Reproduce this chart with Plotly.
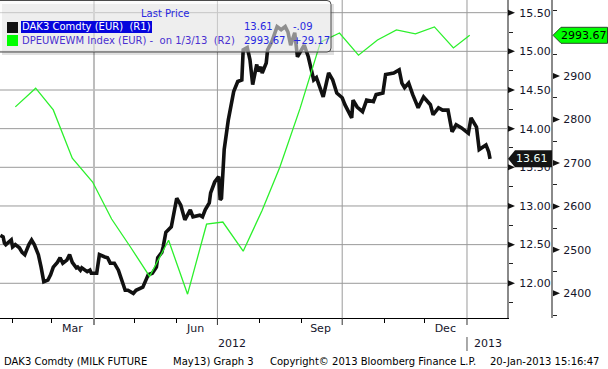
import plotly.graph_objects as go

W, H = 608, 369
FONT = "DejaVu Sans"

# ---------------- data ----------------
milk_dates = [
    "2012-01-23", "2012-01-25", "2012-01-26", "2012-01-27", "2012-01-31", "2012-02-01", "2012-02-03",
    "2012-02-06", "2012-02-08", "2012-02-10", "2012-02-13", "2012-02-15", "2012-02-17", "2012-02-20",
    "2012-02-22", "2012-02-24", "2012-02-27", "2012-02-29", "2012-03-02", "2012-03-05", "2012-03-07",
    "2012-03-09", "2012-03-12", "2012-03-14", "2012-03-16", "2012-03-19", "2012-03-20", "2012-03-22",
    "2012-03-23", "2012-03-27", "2012-03-29", "2012-03-30", "2012-04-03", "2012-04-05", "2012-04-09",
    "2012-04-11", "2012-04-13", "2012-04-16", "2012-04-19", "2012-04-23", "2012-04-24", "2012-04-26",
    "2012-04-30", "2012-05-02", "2012-05-07", "2012-05-10", "2012-05-11", "2012-05-14", "2012-05-17",
    "2012-05-18", "2012-05-21", "2012-05-22", "2012-05-24", "2012-05-28", "2012-06-01", "2012-06-04",
    "2012-06-07", "2012-06-11", "2012-06-13", "2012-06-18", "2012-06-20", "2012-06-22", "2012-06-25",
    "2012-06-26", "2012-06-29", "2012-07-02", "2012-07-03", "2012-07-04", "2012-07-05", "2012-07-06",
    "2012-07-09", "2012-07-12", "2012-07-13", "2012-07-16", "2012-07-19", "2012-07-20", "2012-07-23",
    "2012-07-25", "2012-07-27", "2012-07-30", "2012-07-31", "2012-08-02", "2012-08-03", "2012-08-06",
    "2012-08-07", "2012-08-10", "2012-08-14", "2012-08-17", "2012-08-20", "2012-08-22", "2012-08-24",
    "2012-08-27", "2012-08-29", "2012-09-03", "2012-09-04", "2012-09-06", "2012-09-10", "2012-09-12",
    "2012-09-17", "2012-09-20", "2012-09-21", "2012-09-24", "2012-09-27", "2012-10-01", "2012-10-03",
    "2012-10-08", "2012-10-09", "2012-10-12", "2012-10-16", "2012-10-19", "2012-10-24", "2012-10-26",
    "2012-10-31", "2012-11-02", "2012-11-08", "2012-11-12", "2012-11-14", "2012-11-16", "2012-11-19",
    "2012-11-22", "2012-11-26", "2012-11-30", "2012-12-05", "2012-12-07", "2012-12-11", "2012-12-14",
    "2012-12-18", "2012-12-21", "2012-12-24", "2012-12-28", "2013-01-02", "2013-01-04", "2013-01-08",
    "2013-01-10", "2013-01-15", "2013-01-17", "2013-01-18",
]
milk_vals = [
    12.62, 12.60, 12.52, 12.50, 12.56, 12.47, 12.50,
    12.46, 12.40, 12.37, 12.50, 12.56, 12.50, 12.37,
    12.21, 12.02, 12.04, 12.11, 12.21, 12.27, 12.33,
    12.26, 12.30, 12.37, 12.27, 12.20, 12.21, 12.17,
    12.20, 12.15, 12.17, 12.13, 12.13, 12.37, 12.34,
    12.33, 12.26, 12.26, 12.17, 11.95, 11.91, 11.91,
    11.87, 11.91, 11.95, 12.07, 12.11, 12.13, 12.21,
    12.33, 12.40, 12.47, 12.66, 12.73, 13.10, 13.01,
    12.82, 12.95, 12.86, 12.88, 12.86, 12.95, 13.04,
    13.17, 13.31, 13.38, 13.08, 13.10, 13.47, 13.73,
    14.11, 14.44, 14.48, 14.61, 14.63, 15.02, 15.05,
    14.89, 14.57, 14.83, 14.74, 14.80, 14.72, 14.85,
    15.02, 15.12, 15.32, 15.28, 15.32, 15.25, 15.08,
    15.24, 14.93, 15.08, 15.02, 14.93, 14.63, 14.66,
    14.41, 14.67, 14.72, 14.63, 14.46, 14.40, 14.31,
    14.14, 14.37, 14.28, 14.22, 14.37, 14.35, 14.44,
    14.46, 14.70, 14.72, 14.76, 14.59, 14.53, 14.59,
    14.44, 14.27, 14.41, 14.31, 14.18, 14.27, 14.24,
    14.24, 13.96, 14.05, 14.01, 13.94, 14.14, 14.02,
    13.73, 13.79, 13.70, 13.61,
]

idx_dates = [
    "2012-02-03", "2012-02-18", "2012-03-02", "2012-03-16", "2012-03-31", "2012-04-14", "2012-04-28",
    "2012-05-12", "2012-05-26", "2012-06-09", "2012-06-23", "2012-07-05", "2012-07-20", "2012-08-03",
    "2012-08-16", "2012-08-31", "2012-09-15", "2012-09-29", "2012-10-13", "2012-10-27", "2012-11-10",
    "2012-11-24", "2012-12-08", "2012-12-22", "2013-01-03",
]
idx_vals = [
    2829, 2872, 2822, 2711, 2656, 2571, 2506,
    2439, 2522, 2398, 2559, 2564, 2497, 2591,
    2690, 2826, 2978, 2999, 2948, 2983, 3006,
    2997, 3013, 2964.50, 2993.67,
]

month_labels = ["Mar", "Jun", "Sep", "Dec"]
month_label_dates = ["2012-03-16", "2012-06-15", "2012-09-15", "2012-12-16"]
month_starts = ["2012-02-01", "2012-03-01", "2012-05-01", "2012-06-01",
                "2012-08-01", "2012-09-01", "2012-11-01", "2012-12-01"]
quarter_starts = ["2012-04-01", "2012-07-01", "2012-10-01", "2013-01-01"]
r1_ticks = [12.0, 12.5, 13.0, 13.5, 14.0, 14.5, 15.0, 15.5]
r1_minor = [11.75, 12.25, 12.75, 13.25, 13.75, 14.25, 14.75, 15.25]
r2_ticks = [2400, 2500, 2600, 2700, 2800, 2900]
r2_minor = [2350, 2450, 2550, 2650, 2750, 2850, 2950, 3050]

X_RANGE = ["2012-01-22 17:00", "2013-01-30 12:00"]
R1_RANGE = [11.551, 15.664]
R2_RANGE = [2343.2, 3074.9]

PLOT_BOTTOM = 318
PLOT_RIGHT = 507
AX2_X = 552


def px(x):
    return x / W


def py(y):
    return 1 - y / H


U1 = (R1_RANGE[1] - R1_RANGE[0]) / PLOT_BOTTOM   # R1 units per pixel
U2 = (R2_RANGE[1] - R2_RANGE[0]) / PLOT_BOTTOM   # R2 units per pixel

BLACK_C = "#111111"
GREEN_C = "#2cf02c"
TXT = "#15152a"

fig = go.Figure()

# gridlines drawn as plain line traces underneath the data
gx, gy = [], []
for v in r1_ticks:
    gx += [X_RANGE[0], X_RANGE[1], None]
    gy += [v, v, None]
for q in quarter_starts[1:]:
    gx += [q, q, None]
    gy += [R1_RANGE[0], R1_RANGE[1], None]
fig.add_trace(go.Scatter(x=gx, y=gy, mode="lines", yaxis="y",
                         line=dict(color="#9a9a9a", width=1),
                         hoverinfo="skip", showlegend=False))
fig.add_trace(go.Scatter(x=[quarter_starts[0], quarter_starts[0]], y=list(R1_RANGE),
                         mode="lines", yaxis="y",
                         line=dict(color="#bdbdbd", width=2),
                         hoverinfo="skip", showlegend=False))

fig.add_trace(go.Scatter(x=milk_dates, y=milk_vals, mode="lines",
                         line=dict(color=BLACK_C, width=3.6), yaxis="y",
                         hoverinfo="skip", showlegend=False))
fig.add_trace(go.Scatter(x=idx_dates, y=idx_vals, mode="lines",
                         line=dict(color=GREEN_C, width=1.3), yaxis="y2",
                         hoverinfo="skip", showlegend=False))

shapes = []
# short extensions of the quarter lines below the axis
for i, q in enumerate(quarter_starts):
    shapes.append(dict(type="line", xref="x", yref="paper", x0=q, x1=q,
                       y0=py(PLOT_BOTTOM + 7), y1=py(PLOT_BOTTOM),
                       line=dict(color="#888" if i == 0 else "#333",
                                 width=2 if i == 0 else 1)))

# tick triangles on the value axes
for v in r1_ticks:
    a, b = px(PLOT_RIGHT + 1), px(PLOT_RIGHT + 8)
    h = 3 * U1
    shapes.append(dict(type="path", xref="paper", yref="y",
                       path=f"M {a},{v - h} L {b},{v} L {a},{v + h} Z",
                       fillcolor="#111", line=dict(width=0)))
for v in r2_ticks:
    a, b = px(AX2_X + 1), px(AX2_X + 8)
    h = 3 * U2
    shapes.append(dict(type="path", xref="paper", yref="y2",
                       path=f"M {a},{v - h} L {b},{v} L {a},{v + h} Z",
                       fillcolor="#111", line=dict(width=0)))

# last value tags
lv1 = milk_vals[-1]
h1 = 8.5 * U1
x0, x1, x2 = px(PLOT_RIGHT + 1), px(PLOT_RIGHT + 8), px(AX2_X)
shapes.append(dict(type="path", xref="paper", yref="y",
                   path=(f"M {x0},{lv1} L {x1},{lv1 + h1} L {x2},{lv1 + h1} "
                         f"L {x2},{lv1 - h1} L {x1},{lv1 - h1} Z"),
                   fillcolor="#141414", line=dict(width=0)))
lv2 = idx_vals[-1]
h2 = 8 * U2
x0, x1, x2 = px(AX2_X + 1), px(AX2_X + 9), px(W - 0.5)
shapes.append(dict(type="path", xref="paper", yref="y2",
                   path=(f"M {x0},{lv2} L {x1},{lv2 + h2} L {x2},{lv2 + h2} "
                         f"L {x2},{lv2 - h2} L {x1},{lv2 - h2} Z"),
                   fillcolor="#00ff00", line=dict(width=1, color="#2a4a2a")))


# legend box
def ppath(pts):
    return "M " + " L ".join(f"{px(x)},{py(y)}" for x, y in pts) + " Z"


shapes.append(dict(type="path", xref="paper", yref="paper",
                   path=ppath([(2, 4), (334, 4), (334, 55), (2, 55)]),
                   fillcolor="rgba(0,0,0,0.12)", line=dict(width=0)))
shapes.append(dict(type="path", xref="paper", yref="paper",
                   path=(f"M {px(-2)},{py(0.5)} L {px(327)},{py(0.5)} "
                         f"Q {px(331)},{py(0.5)} {px(331)},{py(4.5)} "
                         f"L {px(331)},{py(48)} Q {px(331)},{py(52)} {px(327)},{py(52)} "
                         f"L {px(-2)},{py(52)} Z"),
                   fillcolor="rgba(250,250,250,0.55)", line=dict(width=1, color="#4a4a4a")))
shapes.append(dict(type="rect", xref="paper", yref="paper",
                   x0=px(21), x1=px(152), y0=py(33), y1=py(21),
                   fillcolor="#0505dc", line=dict(width=0)))
shapes.append(dict(type="rect", xref="paper", yref="paper",
                   x0=px(7), x1=px(18), y0=py(33), y1=py(22),
                   fillcolor="#111", line=dict(width=0)))
shapes.append(dict(type="rect", xref="paper", yref="paper",
                   x0=px(7), x1=px(18), y0=py(46), y1=py(35),
                   fillcolor="#00ff00", line=dict(width=0)))
# year separator
shapes.append(dict(type="line", xref="x", yref="paper", x0="2013-01-01", x1="2013-01-01",
                   y0=py(351), y1=py(337), line=dict(color="#555", width=1)))

NB = "\u00a0"


def fmt_chg(c, nd=2):
    s = f"{abs(c):.{nd}f}"
    if s.startswith("0."):
        s = s[1:]
    return ("+" if c >= 0 else "-") + s


ann = []


def txt(x, y, s, size=10, color=TXT, anchor="left", yref="paper"):
    ann.append(dict(x=px(x), y=(py(y) if yref == "paper" else y), xref="paper", yref=yref,
                    text=s, showarrow=False, xanchor=anchor, yanchor="middle",
                    borderpad=0, font=dict(family=FONT, size=size, color=color)))


txt(165, 14, "Last Price", color="#2828e0", anchor="center")
txt(21, 27, f"DAK3 Comdty (EUR){NB}{NB}(R1)", color="#ffffff")
txt(243, 27, f"{milk_vals[-1]:.2f}", color="#2828e0")
txt(292, 27, fmt_chg(milk_vals[-1] - milk_vals[-2]), color="#2828e0")
txt(21, 40.5, f"DPEUWEWM Index (EUR) -{NB}{NB}on 1/3/13{NB}{NB}(R2)", color="#4a30d0")
txt(243, 40.5, f"{idx_vals[-1]:.2f}", color="#2828e0")
txt(292, 40.5, fmt_chg(idx_vals[-1] - idx_vals[-2]), color="#2828e0")

# tag texts
ann.append(dict(x=px(532), y=lv1, xref="paper", yref="y", text=f"{lv1:.2f}",
                showarrow=False, xanchor="center", yanchor="middle", borderpad=0,
                font=dict(family=FONT, size=11, color="#f0fff8")))
ann.append(dict(x=px(584), y=lv2, xref="paper", yref="y2", text=f"{lv2:.2f}",
                showarrow=False, xanchor="center", yanchor="middle", borderpad=0,
                font=dict(family=FONT, size=11, color="#000000")))

# years
txt(232, 343, "2012", size=11, anchor="center")
txt(473, 343, "2013", size=11, anchor="left")

# footer
txt(3, 361, "DAK3 Comdty (MILK FUTURE", size=10, color="#000")
txt(172, 361, "May13) Graph 3", size=10, color="#000")
txt(269, 361, "Copyright\u00a9 2013 Bloomberg Finance L.P.", size=10, color="#000")
txt(489, 361, "20-Jan-2013 15:16:47", size=10, color="#000")

tickfont = dict(family=FONT, size=11, color=TXT)

fig.update_layout(
    width=W, height=H,
    margin=dict(l=0, r=0, t=0, b=0),
    paper_bgcolor="white", plot_bgcolor="white",
    showlegend=False,
    xaxis=dict(domain=[0, px(PLOT_RIGHT)], range=X_RANGE, type="date",
               tickmode="array", tickvals=month_label_dates, ticktext=month_labels,
               ticks="", tickfont=tickfont, showgrid=False, zeroline=False,
               showline=True, linecolor="#000", linewidth=1,
               minor=dict(tickmode="array", tickvals=month_starts, ticks="outside",
                          ticklen=4, tickcolor="#000", tickwidth=1, showgrid=False)),
    yaxis=dict(domain=[py(PLOT_BOTTOM), 1], range=R1_RANGE, side="right", anchor="x",
               tickmode="array", tickvals=r1_ticks, ticktext=[f"{v:.2f}" for v in r1_ticks],
               ticks="outside", ticklen=8, tickcolor="rgba(0,0,0,0)", tickfont=tickfont,
               showgrid=False, zeroline=False, showline=True, linecolor="#8a8a8a",
               linewidth=2,
               minor=dict(tickmode="array", tickvals=r1_minor, ticks="outside",
                          ticklen=4, tickcolor="#222", tickwidth=1, showgrid=False)),
    yaxis2=dict(range=R2_RANGE, overlaying="y", side="right", anchor="free",
                position=px(AX2_X), tickmode="array", tickvals=r2_ticks,
                ticktext=[str(v) for v in r2_ticks],
                ticks="outside", ticklen=8, tickcolor="rgba(0,0,0,0)", tickfont=tickfont,
                showgrid=False, zeroline=False, showline=True, linecolor="#8a8a8a",
                linewidth=2,
                minor=dict(tickmode="array", tickvals=r2_minor, ticks="outside",
                           ticklen=4, tickcolor="#222", tickwidth=1, showgrid=False)),
    shapes=shapes,
    annotations=ann,
)

fig.write_html("out.html")
